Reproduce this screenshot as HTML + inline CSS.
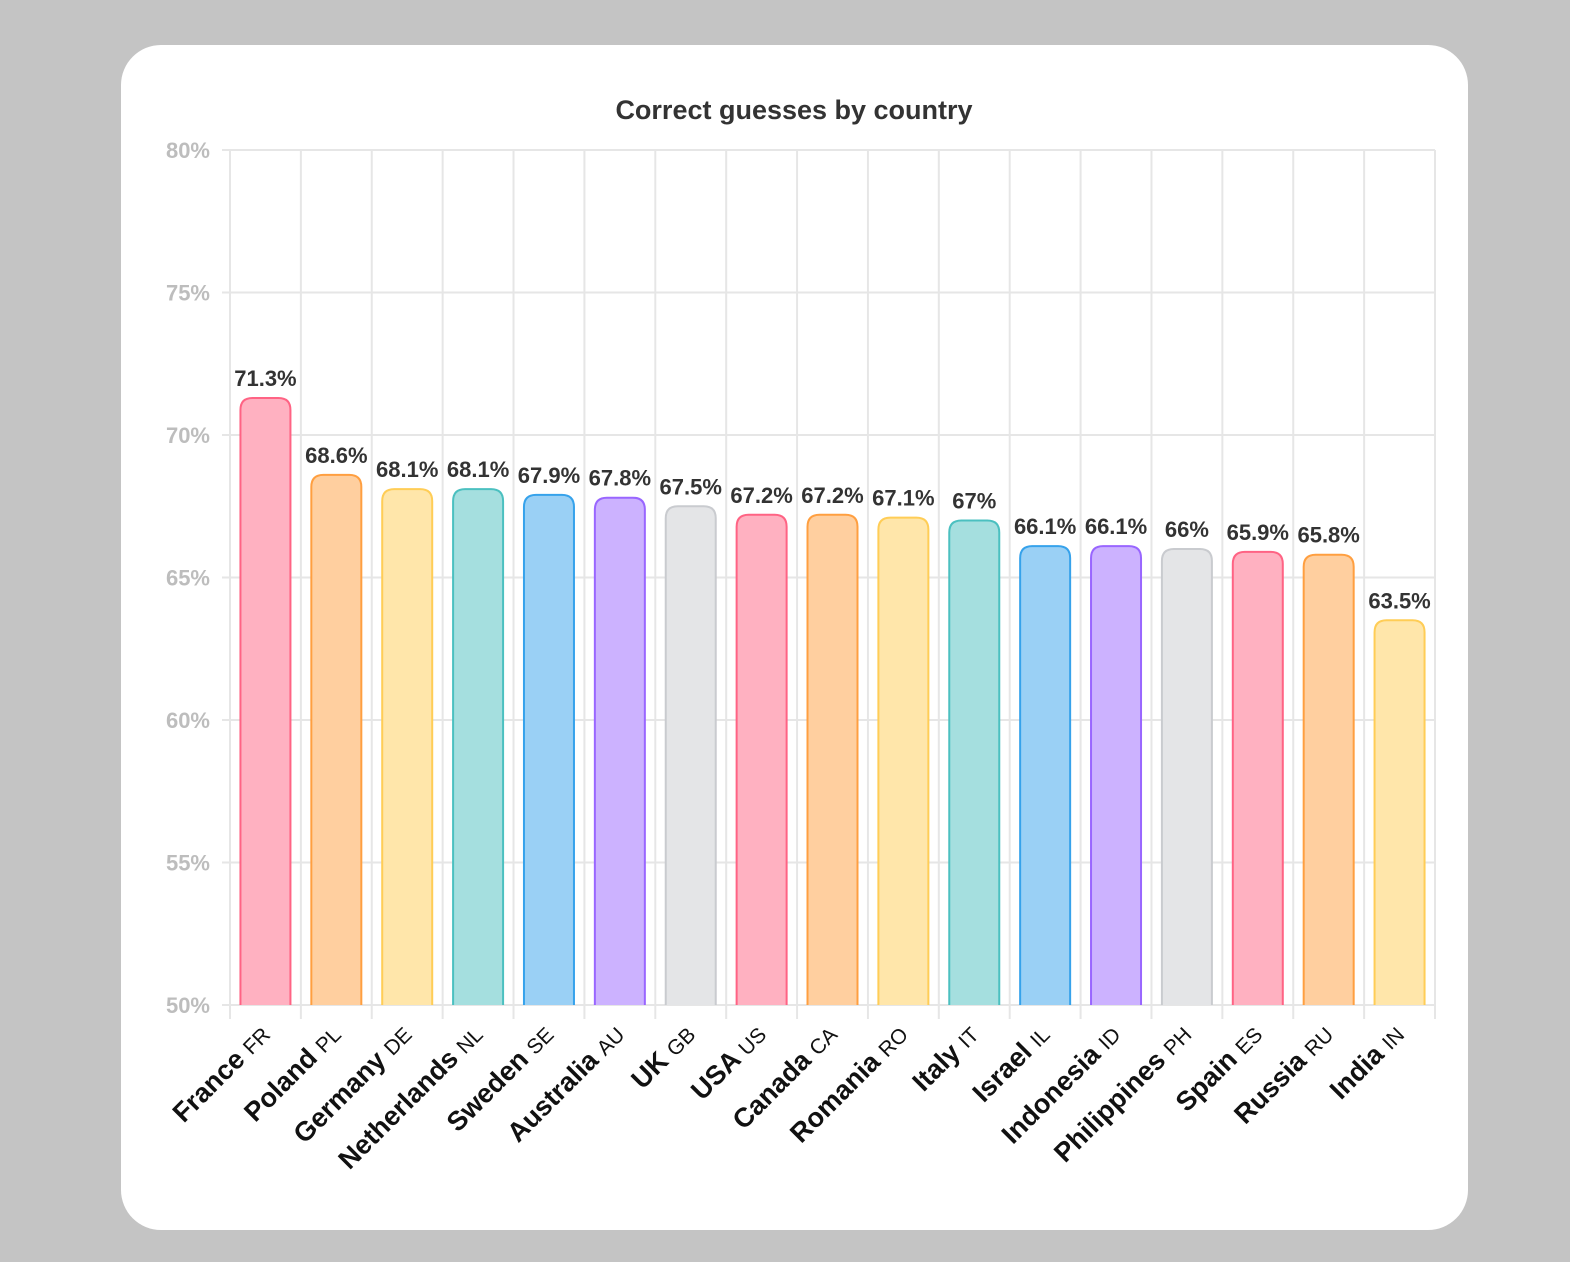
<!DOCTYPE html>
<html><head><meta charset="utf-8"><style>
html,body{margin:0;padding:0;background:#c4c4c4;}
#card{position:absolute;left:121px;top:45px;width:1347px;height:1185px;background:#fff;border-radius:40px;}
svg{position:absolute;left:0;top:0;}
text{font-family:"Liberation Sans",sans-serif;}
</style></head><body>
<div id="card"></div>
<svg id="chart" width="1570" height="1262">
<text x="794" y="119" text-anchor="middle" font-size="27" font-weight="bold" fill="#333">Correct guesses by country</text>
</svg>
<script>
const countries=["France","Poland","Germany","Netherlands","Sweden","Australia","UK","USA","Canada","Romania","Italy","Israel","Indonesia","Philippines","Spain","Russia","India"];
const codes=["FR","PL","DE","NL","SE","AU","GB","US","CA","RO","IT","IL","ID","PH","ES","RU","IN"];
const values=[71.3,68.6,68.1,68.1,67.9,67.8,67.5,67.2,67.2,67.1,67,66.1,66.1,66,65.9,65.8,63.5];
const valueLabels=["71.3%","68.6%","68.1%","68.1%","67.9%","67.8%","67.5%","67.2%","67.2%","67.1%","67%","66.1%","66.1%","66%","65.9%","65.8%","63.5%"];
const yTicks=[50,55,60,65,70,75,80];
const fills=["#ffb1c1","#ffcf9f","#ffe6aa","#a5dfdf","#9ad0f5","#ccb2ff","#e4e5e7"];
const strokes=["#ff6384","#ff9f40","#ffcd56","#4bc0c0","#36a2eb","#9966ff","#c9cbcf"];
const NS="http://www.w3.org/2000/svg";
const svg=document.getElementById('chart');
const L=230,R=1435,T=150,B=1005,ymin=50,ymax=80;
const y=v=>B-(v-ymin)/(ymax-ymin)*(B-T);
const step=(R-L)/countries.length;
const xc=i=>L+step*(i+0.5);
function mk(tag,attrs,parent){const e=document.createElementNS(NS,tag);for(const k in attrs)e.setAttribute(k,attrs[k]);(parent||svg).appendChild(e);return e;}
yTicks.forEach(t=>{
  const g=mk('line',{x1:L-8,x2:R,y1:y(t),y2:y(t),stroke:'#e6e6e6','stroke-width':2});
  
  
  const tx=mk('text',{x:L-20,y:y(t)+8,'text-anchor':'end','font-size':22,'font-weight':'bold',fill:'#bdbdbd'});
  tx.textContent=t+'%';
  
  
});
for(let i=0;i<=countries.length;i++){
  const x=L+step*i;
  const g=mk('line',{x1:x,x2:x,y1:T,y2:B+14,stroke:'#e6e6e6','stroke-width':2});
  
  
}
countries.forEach((c,i)=>{
  const cx=xc(i),w=50,x0=cx-w/2,top=y(values[i]),r=12;
  const d=`M${x0},${B} L${x0},${top+r} Q${x0},${top} ${x0+r},${top} L${x0+w-r},${top} Q${x0+w},${top} ${x0+w},${top+r} L${x0+w},${B}`;
  const p=mk('path',{d:d,fill:fills[i%7],stroke:strokes[i%7],'stroke-width':2});
  
  
  const vl=mk('text',{x:cx,y:top-12,'text-anchor':'middle','font-size':22,'font-weight':'bold',fill:'#333'});
  vl.textContent=valueLabels[i];
  
  
  const tl=mk('text',{x:0,y:0,'text-anchor':'end',transform:`translate(${cx+6},${1036}) rotate(-45)`,fill:'#111'});
  const t1=mk('tspan',{'font-size':27,'font-weight':'bold'},tl);t1.textContent=c+' ';
  const t2=mk('tspan',{'font-size':21},tl);t2.textContent=codes[i];
  
  
});
</script>
</body></html>
